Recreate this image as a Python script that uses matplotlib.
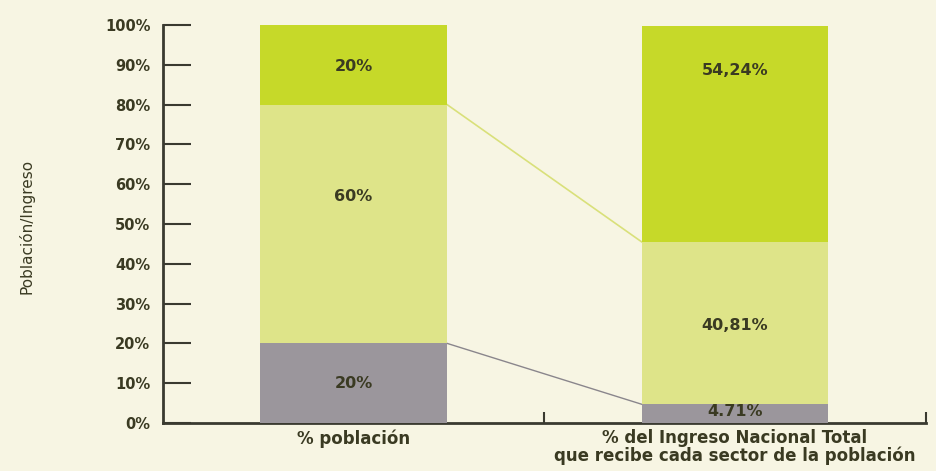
import matplotlib.pyplot as plt
import numpy as np

# data
categorias = ['% población', '% del Ingreso Nacional Total\nque recibe cada sector de la población']
bajo = [20, 4.71]
medio = [60, 40.81]
alto = [20, 54.24]
etiquetas_bajo = ['20%', '4.71%']
etiquetas_medio = ['60%', '40,81%']
etiquetas_alto = ['20%', '54,24%']
yticks = np.arange(0, 101, 10)

fondo = '#f7f5e3'
c_bajo = '#9b969c'
c_medio = '#dee489'
c_alto = '#c6d929'
c_texto = '#3a3a22'

fig = plt.figure(figsize=(9.36, 4.71), dpi=100, facecolor=fondo)
ax = fig.add_axes([0.174, 0.102, 0.815, 0.845], facecolor=fondo)

x = np.arange(len(categorias))
b = np.array(bajo)
m = np.array(medio)
a = np.array(alto)
ancho = 0.49

ax.bar(x, b, ancho, color=c_bajo, zorder=3)
ax.bar(x, m, ancho, bottom=b, color=c_medio, zorder=3)
ax.bar(x, a, ancho, bottom=b + m, color=c_alto, zorder=3)

# lineas de conexion entre barras
ax.plot([x[0] + ancho / 2, x[1] - ancho / 2], [b[0] + m[0], b[1] + m[1]],
        color='#d9e07a', lw=1.2, zorder=1)
ax.plot([x[0] + ancho / 2, x[1] - ancho / 2], [b[0], b[1]],
        color='#8a868c', lw=1.0, zorder=1)

# etiquetas en las barras
y_bajo = [10, 3]
y_medio = [57, 24.6]
y_alto = [89.5, 88.5]
for i in range(len(x)):
    for yy, t in [(y_bajo[i], etiquetas_bajo[i]), (y_medio[i], etiquetas_medio[i]),
                  (y_alto[i], etiquetas_alto[i])]:
        ax.text(x[i], yy, t, ha='center', va='center', fontsize=11.5,
                fontweight='bold', color=c_texto, zorder=4)

ax.set_xlim(-0.5, 1.5)
ax.set_ylim(0, 100)
ax.set_yticks(yticks)
ax.set_yticklabels([f'{v}%' for v in yticks], fontsize=10.5, fontweight='bold', color=c_texto)
ax.tick_params(axis='y', direction='in', length=20, width=1.5, color='#3a3a30', pad=9)

ax.set_xticks([0.5, 1.5])
ax.set_xticklabels(['', ''])
ax.tick_params(axis='x', direction='in', length=8, width=1.5, color='#3a3a30')
for i, c in enumerate(categorias):
    ax.text(x[i], -1.6, c, ha='center', va='top', fontsize=12,
            fontweight='bold', color=c_texto, linespacing=0.95, clip_on=False)

for s in ['top', 'right']:
    ax.spines[s].set_visible(False)
for s in ['left', 'bottom']:
    ax.spines[s].set_color('#3a3a30')
    ax.spines[s].set_linewidth(2)
    ax.spines[s].set_zorder(2)

fig.text(0.028, 0.52, 'Población/Ingreso', rotation=90, ha='center', va='center',
         fontsize=11, color=c_texto, family=['Liberation Sans Narrow', 'DejaVu Sans'])

fig.savefig('out.png', dpi=100, facecolor=fondo)
